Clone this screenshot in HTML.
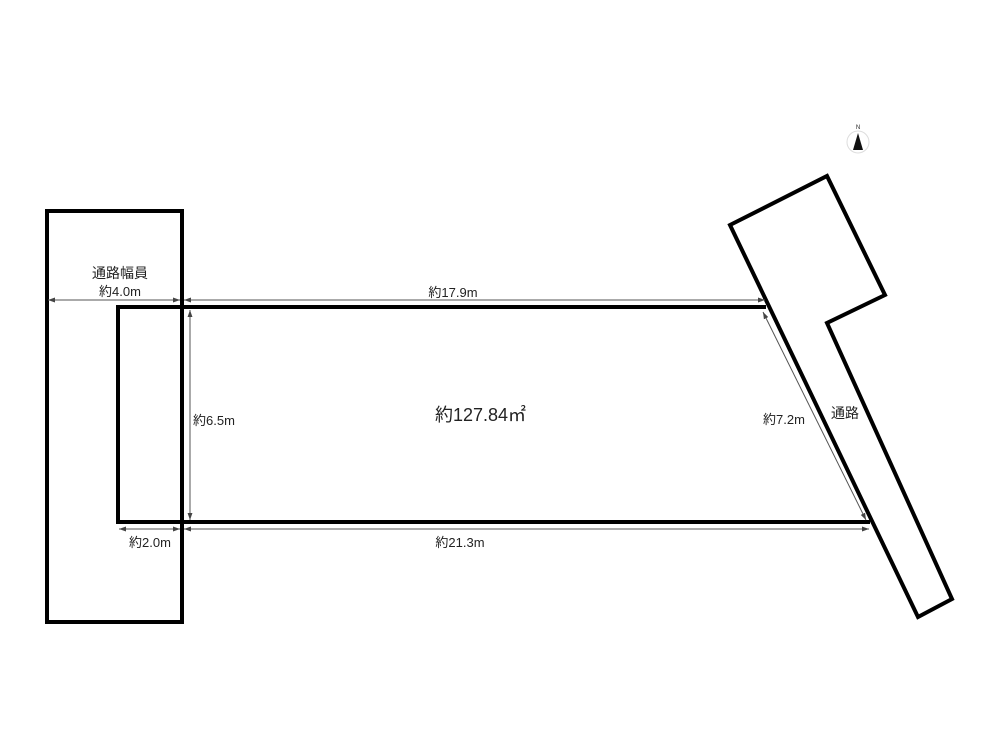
<!DOCTYPE html>
<html><head><meta charset="utf-8"><style>
html,body{margin:0;padding:0;background:#fff;}
svg{display:block;}
text{font-family:"Liberation Sans","Noto Sans CJK JP",sans-serif;fill:#222;}
</style></head><body>
<svg width="1000" height="750" viewBox="0 0 1000 750" xmlns="http://www.w3.org/2000/svg">
<defs>
<marker id="a" viewBox="0 0 10 10" refX="10" refY="5" markerWidth="7" markerHeight="7" orient="auto-start-reverse" markerUnits="userSpaceOnUse"><path d="M0,1.5 L10,5 L0,8.5 z" fill="#444"/></marker>
</defs>
<g fill="none" stroke="#000" stroke-width="4" stroke-linejoin="miter">
<rect x="47" y="211" width="135" height="411"/>
<polyline points="766,307 118,307 118,522 870,522"/>
<polygon points="730,225 827,176 885,295 827,323 952,599 918,617"/>
</g>
<g stroke="#555" stroke-width="1" fill="none">
<line x1="48" y1="300" x2="180" y2="300" marker-start="url(#a)" marker-end="url(#a)"/>
<line x1="184" y1="300" x2="765" y2="300" marker-start="url(#a)" marker-end="url(#a)"/>
<line x1="190" y1="310" x2="190" y2="520" marker-start="url(#a)" marker-end="url(#a)"/>
<line x1="119" y1="529" x2="180" y2="529" marker-start="url(#a)" marker-end="url(#a)"/>
<line x1="184" y1="529" x2="869" y2="529" marker-start="url(#a)" marker-end="url(#a)"/>
<line x1="763" y1="312" x2="866" y2="520" marker-start="url(#a)" marker-end="url(#a)"/>
</g>
<text x="120" y="278" font-size="14" text-anchor="middle">通路幅員</text>
<text x="120" y="296" font-size="13" text-anchor="middle">約4.0m</text>
<text x="453" y="297" font-size="13" text-anchor="middle">約17.9m</text>
<text x="193" y="425" font-size="13">約6.5m</text>
<text x="435" y="421" font-size="18">約127.84㎡</text>
<text x="763" y="424" font-size="13">約7.2m</text>
<text x="831" y="418" font-size="14">通路</text>
<text x="150" y="547" font-size="13" text-anchor="middle">約2.0m</text>
<text x="460" y="547" font-size="13" text-anchor="middle">約21.3m</text>
<circle cx="858" cy="142" r="11" fill="none" stroke="#ddd" stroke-width="1"/>
<polygon points="858,133 853,150 863,150" fill="#111"/>
<text x="858" y="129" font-size="6" text-anchor="middle">N</text>
</svg>
</body></html>
